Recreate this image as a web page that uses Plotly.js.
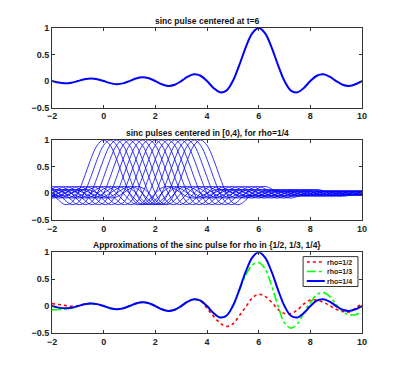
<!DOCTYPE html>
<html>
<head>
<meta charset="utf-8">
<script src="https://cdn.plot.ly/plotly-3.0.1.min.js"></script>
<style>
  html, body { margin: 0; padding: 0; background: #fff; }
  #myDiv { width: 399px; height: 374px; }
</style>
</head>
<body>
<div id="myDiv"></div>
<script>
// offsets from the pulse centre and the sinc pulse
var pulseU = [-8, -7.75, -7.5, -7.25, -7, -6.75, -6.5, -6.25, -6, -5.75, -5.5, -5.25,
  -5, -4.75, -4.5, -4.25, -4, -3.75, -3.5, -3.25, -3, -2.75, -2.5, -2.25,
  -2, -1.75, -1.5, -1.25, -1, -0.75, -0.5, -0.25, 0, 0.25, 0.5, 0.75,
  1, 1.25, 1.5, 1.75, 2, 2.25, 2.5, 2.75, 3, 3.25, 3.5, 3.75,
  4, 4.25, 4.5, 4.75, 5, 5.25, 5.5, 5.75, 6, 6.25, 6.5, 6.75,
  7, 7.25, 7.5, 7.75, 8, 8.25, 8.5, 8.75, 9, 9.25, 9.5, 9.75, 10];
var pulseVal = [0, -0.029, -0.042, -0.031, 0, 0.033, 0.049, 0.036, 0, -0.039, -0.058, -0.043,
  0, 0.047, 0.071, 0.053, 0, -0.060, -0.091, -0.069, 0, 0.082, 0.127, 0.100,
  0, -0.129, -0.212, -0.180, 0, 0.300, 0.637, 0.900, 1, 0.900, 0.637, 0.300,
  0, -0.180, -0.212, -0.129, 0, 0.100, 0.127, 0.082, 0, -0.069, -0.091, -0.060,
  0, 0.053, 0.071, 0.047, 0, -0.043, -0.058, -0.039, 0, 0.036, 0.049, 0.033,
  0, -0.031, -0.042, -0.029, 0, 0.027, 0.037, 0.026, 0, -0.024, -0.034, -0.023, 0];

var mainCenter = 6;
var pulseCenters = [0, 0.25, 0.5, 0.75, 1, 1.25, 1.5, 1.75, 2, 2.25, 2.5, 2.75, 3, 3.25, 3.5, 3.75];

// time axis of the approximations (bottom panel)
var t = [-2, -1.75, -1.5, -1.25, -1, -0.75, -0.5, -0.25, 0, 0.25, 0.5, 0.75,
  1, 1.25, 1.5, 1.75, 2, 2.25, 2.5, 2.75, 3, 3.25, 3.5, 3.75,
  4, 4.25, 4.5, 4.75, 5, 5.25, 5.5, 5.75, 6, 6.25, 6.5, 6.75,
  7, 7.25, 7.5, 7.75, 8, 8.25, 8.5, 8.75, 9, 9.25, 9.5, 9.75, 10];
var approxHalf = [0.045, 0.03, 0.012, -0.005, 0, 0.033, 0.049, 0.036, 0, -0.039, -0.058, -0.043,
  0, 0.047, 0.071, 0.053, 0, -0.060, -0.091, -0.069, 0, 0.082, 0.125, 0.09,
  -0.04, -0.19, -0.31, -0.38, -0.33, -0.18, -0.02, 0.15, 0.22, 0.18, 0.07, -0.06,
  -0.14, -0.14, -0.07, 0.04, 0.11, 0.11, 0.07, 0.01, -0.06, -0.10, -0.11, -0.04, 0.055];
var approxThird = [-0.07, -0.065, -0.055, -0.04, -0.005, 0.033, 0.049, 0.036, 0, -0.039, -0.058, -0.043,
  0, 0.047, 0.071, 0.053, 0, -0.060, -0.091, -0.069, 0, 0.082, 0.127, 0.100,
  0, -0.129, -0.21, -0.18, 0, 0.29, 0.58, 0.76, 0.81, 0.69, 0.38, 0,
  -0.31, -0.41, -0.33, -0.12, 0.06, 0.21, 0.25, 0.18, 0.03, -0.10, -0.16, -0.16, -0.11];

var legendNames = ['rho=1/2', 'rho=1/3', 'rho=1/4'];
var legendColors = ['#ff0000', '#00ff00', '#0000ff'];
var legendDash = ['dot', 'dashdot', 'solid'];
var titles = ['sinc pulse centered at t=6',
  'sinc pulses centered in [0,4), for rho=1/4',
  'Approximations of the sinc pulse for rho in {1/2, 1/3, 1/4}'];

function shifted(c) {
  return pulseU.map(function (u) { return u + c; });
}

var data = [];

data.push({
  x: shifted(mainCenter), y: pulseVal, xaxis: 'x', yaxis: 'y',
  type: 'scatter', mode: 'lines',
  line: {color: '#0000ff', width: 2, shape: 'spline'}
});

pulseCenters.forEach(function (c) {
  data.push({
    x: shifted(c), y: pulseVal, xaxis: 'x2', yaxis: 'y2',
    type: 'scatter', mode: 'lines',
    line: {color: '#0000ff', width: 0.8, shape: 'spline'}
  });
});

var approx = [
  {x: t, y: approxHalf},
  {x: t, y: approxThird},
  {x: shifted(mainCenter), y: pulseVal}
];
approx.forEach(function (a, i) {
  data.push({
    x: a.x, y: a.y, xaxis: 'x3', yaxis: 'y3', name: legendNames[i],
    type: 'scatter', mode: 'lines',
    line: {color: legendColors[i], width: i === 2 ? 2 : 1.6, dash: legendDash[i], shape: 'spline'}
  });
});

var fontFam = 'Liberation Sans, Arial, sans-serif';
var tickFont = {family: fontFam, size: 9, color: '#222', weight: 'bold'};

function xAx(anchor) {
  return {
    anchor: anchor, range: [-2, 10], tickvals: [-2, 0, 2, 4, 6, 8, 10],
    ticks: 'inside', ticklen: 3, tickcolor: '#333', showline: true, linecolor: '#333',
    linewidth: 1, mirror: 'ticks', showgrid: false, zeroline: false, tickfont: tickFont
  };
}
function yAx(anchor, dom) {
  return {
    anchor: anchor, domain: dom, range: [-0.5, 1], tickvals: [-0.5, 0, 0.5, 1],
    ticks: 'inside', ticklen: 3, tickcolor: '#333', showline: true, linecolor: '#333',
    linewidth: 1, mirror: 'ticks', showgrid: false, zeroline: false, tickfont: tickFont
  };
}

var domains = [[0.739, 1], [0.371, 0.633], [0, 0.265]];

var annotations = titles.map(function (txt, i) {
  return {
    text: '<b>' + txt + '</b>', xref: 'paper', yref: 'paper', x: 0.5, y: domains[i][1],
    xanchor: 'center', yanchor: 'middle', yshift: 7, showarrow: false,
    font: {family: fontFam, size: 8.5, color: '#111'}
  };
});

// compact MATLAB-style legend box inside the bottom axes
var legTop = 0.945, legBottom = 0.575, legLeft = 0.81, legRight = 0.987;
var legRows = [0.877, 0.76, 0.643];
var shapes = [{
  type: 'rect', xref: 'x3 domain', yref: 'y3 domain',
  x0: legLeft, x1: legRight, y0: legBottom, y1: legTop,
  fillcolor: '#fff', line: {color: '#333', width: 1}, layer: 'above'
}];
legendNames.forEach(function (name, i) {
  shapes.push({
    type: 'line', xref: 'x3 domain', yref: 'y3 domain',
    x0: 0.822, x1: 0.88, y0: legRows[i], y1: legRows[i], layer: 'above',
    line: {color: legendColors[i], width: i === 2 ? 2 : 1.5, dash: legendDash[i]}
  });
  annotations.push({
    text: '<b>' + name + '</b>', xref: 'x3 domain', yref: 'y3 domain',
    x: 0.884, y: legRows[i], xanchor: 'left', yanchor: 'middle', showarrow: false,
    font: {family: fontFam, size: 7, color: '#222'}, borderpad: 0
  });
});

var layout = {
  width: 399, height: 374,
  margin: {l: 52, r: 37, t: 28, b: 41},
  paper_bgcolor: '#fff', plot_bgcolor: '#fff',
  xaxis: xAx('y'), yaxis: yAx('x', domains[0]),
  xaxis2: xAx('y2'), yaxis2: yAx('x2', domains[1]),
  xaxis3: xAx('y3'), yaxis3: yAx('x3', domains[2]),
  showlegend: false,
  shapes: shapes,
  annotations: annotations
};

Plotly.newPlot('myDiv', data, layout, {staticPlot: true, displayModeBar: false});
</script>
</body>
</html>
